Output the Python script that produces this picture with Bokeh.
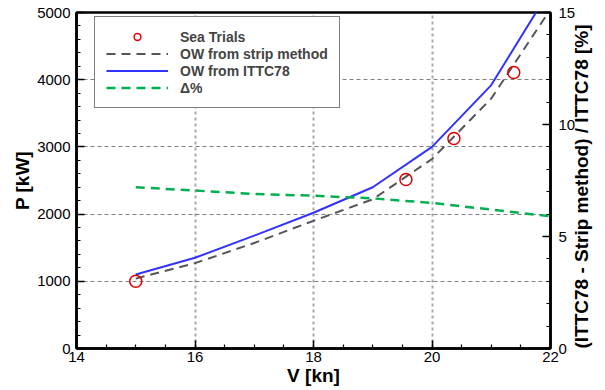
from math import pi
from bokeh.plotting import figure
from bokeh.models import (Range1d, LinearAxis, SingleIntervalTicker, FixedTicker,
                          Legend, LegendItem)
from bokeh.embed import file_html
from bokeh.resources import INLINE

# ---- data ----
v_model = [15, 16, 17, 18, 19, 20, 21, 22]
p_ittc78 = [1100, 1350, 1680, 2020, 2400, 3000, 3920, 5350]
p_strip = [1040, 1270, 1570, 1900, 2220, 2820, 3720, 5050]
delta_pct = [7.2, 7.05, 6.9, 6.82, 6.7, 6.5, 6.2, 5.9]
v_trials = [15.0, 19.56, 20.37, 21.38]
p_trials = [1000, 2515, 3125, 4107]

x_label = "V [kn]"
y_label = "P [kW]"
y2_label = "(ITTC78 - Strip method) / ITTC78 [%]"

FONT = "Liberation Sans"

p = figure(width=605, height=390, x_range=Range1d(14, 22), y_range=Range1d(0, 5000),
           output_backend="svg", toolbar_location=None,
           min_border_left=76, min_border_right=53, min_border_top=12, min_border_bottom=42)
p.extra_y_ranges = {"pct": Range1d(0, 15)}

p.outline_line_color = "black"
p.outline_line_width = 2.5

# grids
p.xgrid.ticker = FixedTicker(ticks=[16, 18, 20])
p.ygrid.ticker = FixedTicker(ticks=[1000, 2000, 3000, 4000])
p.xgrid.grid_line_color = "#a8a8a8"
p.xgrid.grid_line_width = 2
p.xgrid.grid_line_dash = "3 3"
p.ygrid.grid_line_color = "#808080"
p.ygrid.grid_line_width = 1
p.ygrid.grid_line_dash = "4 3"

# axes
p.xaxis[0].ticker = SingleIntervalTicker(interval=2, num_minor_ticks=4)
p.yaxis[0].ticker = SingleIntervalTicker(interval=1000, num_minor_ticks=5)
right = LinearAxis(y_range_name="pct", ticker=SingleIntervalTicker(interval=5, num_minor_ticks=5))
p.add_layout(right, "right")

p.xaxis[0].axis_label = x_label
p.yaxis[0].axis_label = y_label
right.axis_label = y2_label

for ax in [p.xaxis[0], p.yaxis[0], right]:
    ax.axis_line_color = "black"
    ax.axis_line_width = 2.5
    ax.major_tick_line_color = "black"
    ax.major_tick_line_width = 1.5
    ax.minor_tick_line_color = "black"
    ax.minor_tick_line_width = 1.2
    ax.major_tick_in = 8
    ax.major_tick_out = 0
    ax.minor_tick_in = 4
    ax.minor_tick_out = 0
    ax.major_label_text_font = FONT
    ax.major_label_text_font_size = "15px"
    ax.major_label_text_color = "black"
    ax.axis_label_text_font = FONT
    ax.axis_label_text_font_style = "bold"
    ax.axis_label_text_color = "black"
    ax.axis_label_text_font_size = "19px"
p.yaxis[0].major_label_standoff = 6
p.yaxis[0].axis_label_standoff = 1
p.xaxis[0].major_label_standoff = 3
p.xaxis[0].axis_label_standoff = 0
right.major_label_standoff = 8
right.axis_label_standoff = 3
right.axis_label_orientation = pi / 2
right.axis_label_align = "start"

# glyphs
r_ittc = p.line(v_model, p_ittc78, line_color="#3333ff", line_width=2)
r_strip = p.line(v_model, p_strip, line_color="#555555", line_width=2, line_dash="9 6")
r_delta = p.line(v_model, delta_pct, y_range_name="pct", line_color="#00b050",
                 line_width=2.5, line_dash="9 6")
r_trials = p.scatter(v_trials, p_trials, marker="circle", size=12, fill_color=None,
                     line_color="#e00000", line_width=1.5)

legend = Legend(items=[
    LegendItem(label="Sea Trials", renderers=[r_trials]),
    LegendItem(label="OW from strip method", renderers=[r_strip]),
    LegendItem(label="OW from ITTC78", renderers=[r_ittc]),
    LegendItem(label="Δ%", renderers=[r_delta]),
], location=(18, 240), glyph_width=62, glyph_height=17, label_height=17,
    spacing=0, padding=11, margin=0, label_standoff=12,
    border_line_color="black", border_line_width=1.5, background_fill_alpha=1,
    label_text_font=FONT, label_text_font_size="14px", label_text_font_style="bold")
p.add_layout(legend)

open("out.html", "w").write(file_html(p, INLINE))
